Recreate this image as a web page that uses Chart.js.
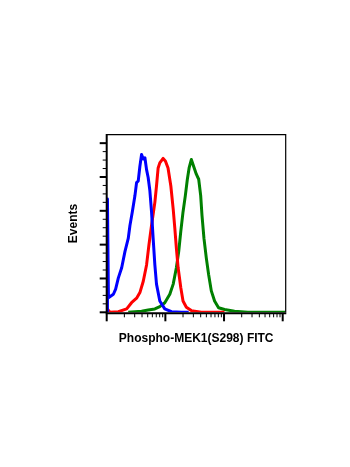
<!DOCTYPE html>
<html>
<head>
<meta charset="utf-8">
<script src="https://cdn.jsdelivr.net/npm/chart.js@4"></script>
<style>
  html, body { margin: 0; padding: 0; background: #fff; }
  #wrap { width: 350px; height: 467px; }
</style>
</head>
<body>
<div id="wrap"><canvas id="chart" width="350" height="467"></canvas></div>
<script>
// Fluorescence intensity (log axis) and event counts per population
const blueX  = [1.03, 1.03, 1.07, 1.30, 1.42, 1.58, 1.80, 2.05, 2.33, 2.49, 2.73, 3.03, 3.23, 3.45, 3.68, 3.93, 4.20, 4.48, 4.78, 5.09, 5.44, 5.81, 6.19, 6.62, 7.06, 8.04, 9.77, 12.7, 18.8, 25];
const blueY  = [0, 201, 26, 32, 41, 61, 79, 108, 131, 154, 178, 207, 230, 233, 259, 280, 272, 274, 253, 239, 216, 178, 131, 84, 50, 20, 6, 1, 0, 0];

const redX   = [1.01, 1.14, 1.58, 2.19, 2.65, 3.23, 3.68, 4.20, 4.78, 5.24, 5.81, 6.62, 7.06, 7.53, 8.04, 9.16, 10.05, 11.1, 12.4, 13.6, 14.5, 15.4, 16.5, 18.3, 20.0, 22.8, 27.7, 41, 102];
const redY   = [7, 0, 1, 6, 17, 25, 35, 55, 84, 119, 154, 195, 224, 256, 265, 273, 268, 256, 224, 183, 149, 114, 79, 44, 20, 9, 3, 0, 0];

const greenX = [2.33, 3.93, 5.09, 6.62, 8.04, 9.77, 11.9, 13.6, 15.4, 16.9, 18.3, 20.0, 21.9, 23.7, 25.4, 27.7, 29.6, 33.7, 37.0, 40.0, 42.1, 45.5, 49.9, 54.6, 60.7, 69.0, 80.7, 102, 151, 254, 1125];
const greenY = [0, 2, 4, 6, 10, 17, 32, 50, 79, 108, 143, 178, 207, 236, 256, 271, 262, 245, 236, 207, 172, 131, 96, 67, 38, 20, 8, 5, 2, 0, 0];

// Axis ranges and tick values
const xMin = 1, xMax = 1125;
const yMin = 0, yMax = 315;
const xTickValues = [1,2,3,4,5,6,7,8,9,10,20,30,40,50,60,70,80,90,100,200,300,400,500,600,700,800,900,1000];
const xMajorValues = [1, 10, 100, 1000];
const yTickValues = [0,15,30,45,60,75,90,105,120,135,150,165,180,195,210,225,240,255,270,285,300];
const yMajorValues = [0, 60, 120, 180, 240, 300];

const xTitle = 'Phospho-MEK1(S298) FITC';
const yTitle = 'Events';

const toPoints = (xs, ys) => xs.map((x, i) => ({ x: x, y: ys[i] }));

// Draws the box frame and the outward tick marks from the scales
const frameAndTicks = {
  id: 'frameAndTicks',
  afterDatasetsDraw(chart) {
    const { ctx, chartArea: a, scales: { x, y } } = chart;
    ctx.save();
    ctx.strokeStyle = '#000';
    ctx.lineCap = 'butt';

    // top and right edges
    ctx.lineWidth = 1.2;
    ctx.beginPath();
    ctx.moveTo(a.left, a.top);
    ctx.lineTo(a.right, a.top);
    ctx.lineTo(a.right, a.bottom);
    ctx.stroke();

    // left and bottom axes
    ctx.lineWidth = 2;
    ctx.beginPath();
    ctx.moveTo(a.left, a.top - 0.6);
    ctx.lineTo(a.left, a.bottom + 1);
    ctx.moveTo(a.left - 1, a.bottom + 1);
    ctx.lineTo(a.right + 0.6, a.bottom + 1);
    ctx.stroke();

    // y ticks
    yTickValues.forEach(v => {
      const py = y.getPixelForValue(v);
      const major = yMajorValues.includes(v);
      ctx.lineWidth = major ? 2 : 1;
      ctx.beginPath();
      ctx.moveTo(a.left, py);
      ctx.lineTo(a.left - (major ? 7 : 4), py);
      ctx.stroke();
    });

    // x ticks
    xTickValues.forEach(v => {
      const px = x.getPixelForValue(v);
      const major = xMajorValues.includes(v);
      ctx.lineWidth = major ? 2 : 1;
      ctx.beginPath();
      ctx.moveTo(px, a.bottom + 1);
      ctx.lineTo(px, a.bottom + 1 + (major ? 8 : 4));
      ctx.stroke();
    });
    ctx.restore();
  }
};

const titleFont = { family: '"Liberation Sans", Arial, sans-serif', size: 12, weight: 'bold', lineHeight: 1.2 };

new Chart(document.getElementById('chart'), {
  type: 'line',
  data: {
    datasets: [
      { data: toPoints(blueX, blueY),  borderColor: '#0000ff' },
      { data: toPoints(redX, redY),    borderColor: '#ff0000' },
      { data: toPoints(greenX, greenY), borderColor: '#008000' }
    ]
  },
  options: {
    responsive: false,
    animation: false,
    devicePixelRatio: 1,
    parsing: true,
    layout: { padding: { left: 66.3, top: 134.7, right: 64.3, bottom: 121.3 } },
    elements: {
      line: { borderWidth: 3, tension: 0, fill: false, borderJoinStyle: 'round' },
      point: { radius: 0, hoverRadius: 0 }
    },
    plugins: { legend: { display: false }, tooltip: { enabled: false } },
    events: [],
    scales: {
      x: {
        type: 'logarithmic',
        min: xMin, max: xMax,
        ticks: { display: false },
        grid: { display: false, drawTicks: false },
        border: { display: false },
        title: { display: true, text: xTitle, color: '#000', font: titleFont, padding: { top: 19, bottom: 0 } }
      },
      y: {
        type: 'linear',
        min: yMin, max: yMax,
        ticks: { display: false },
        grid: { display: false, drawTicks: false },
        border: { display: false },
        title: { display: true, text: yTitle, color: '#000', font: titleFont, padding: { top: 0, bottom: 26 } }
      }
    }
  },
  plugins: [frameAndTicks]
});
</script>
</body>
</html>
